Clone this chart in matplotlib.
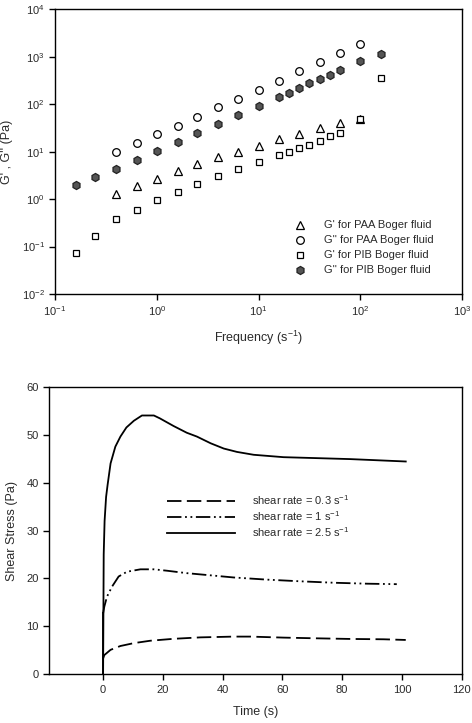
import matplotlib
matplotlib.use("Agg")
import matplotlib.pyplot as plt
from matplotlib.ticker import NullLocator, FixedLocator

plt.rcParams['font.family'] = ['Liberation Sans', 'DejaVu Sans']
plt.rcParams['mathtext.fontset'] = 'custom'
plt.rcParams['mathtext.rm'] = 'Liberation Sans'
plt.rcParams['mathtext.it'] = 'Liberation Sans'

# ---------------- data: top panel (oscillatory) ----------------
freq_paa = [0.4, 0.64, 1.0, 1.6, 2.5, 4.0, 6.3, 10, 16, 25, 40, 63, 100]
gp_paa = [1.27, 1.9, 2.7, 3.9, 5.5, 7.6, 10.1, 13.5, 18.4, 24.2, 31.4, 39.4, 49.4]
gpp_paa = [10.1, 15.4, 23.5, 35.7, 54.4, 86, 130, 205, 316, 500, 776, 1217, 1910]

freq_pib = [0.16, 0.25, 0.4, 0.64, 1.0, 1.6, 2.5, 4.0, 6.3, 10, 16, 20, 25,
            31.6, 40, 50, 63, 100, 160]
gp_pib = [0.073, 0.171, 0.385, 0.586, 0.95, 1.43, 2.1, 3.05, 4.36, 6.0, 8.5,
          9.95, 11.7, 14.2, 16.7, 21.3, 25, 48.6, 367]
gpp_pib = [1.97, 2.86, 4.29, 6.75, 10.3, 16.2, 24.6, 38.1, 60, 93, 146, 177,
           219, 275, 344, 425, 542, 825, 1175]

labels_top = ["G' for PAA Boger fluid", "G'' for PAA Boger fluid",
              "G' for PIB Boger fluid", "G'' for PIB Boger fluid"]

# ---------------- data: bottom panel (start-up shear) ----------------
t_25 = [0, 0.2, 0.5, 1.0, 1.5, 2.5, 4.1, 5.8, 7.8, 10.3, 13, 17, 19, 23.6, 28,
        31.4, 36, 40.4, 44.8, 50.4, 60.4, 71.6, 82.7, 93.9, 101.3]
s_25 = [0, 25, 32, 37, 39.5, 44, 47.5, 49.6, 51.5, 52.9, 54, 54, 53.4, 51.8,
        50.4, 49.6, 48.2, 47.1, 46.4, 45.8, 45.3, 45.1, 44.9, 44.6, 44.4]

t_1 = [0, 0.4, 1.3, 3.0, 5.2, 8.0, 12.5, 17, 21.5, 28, 35, 43.7, 54.8, 66,
       77.2, 88.4, 98.3]
s_1 = [12.7, 14.1, 16.2, 18.3, 20.4, 21.4, 21.9, 21.9, 21.6, 21.1, 20.7, 20.2,
       19.75, 19.4, 19.1, 18.9, 18.8]

t_03 = [0, 0.4, 2.5, 5.8, 10.3, 15.8, 23.6, 32.6, 43.7, 49.3, 60.4, 71.6,
        82.7, 93.9, 101.3]
s_03 = [3.3, 4.0, 5.1, 5.9, 6.5, 7.0, 7.4, 7.7, 7.86, 7.86, 7.65, 7.5, 7.37,
        7.3, 7.16]

labels_bot = [r"shear rate = 0.3 s$^{-1}$", r"shear rate = 1 s$^{-1}$",
              r"shear rate = 2.5 s$^{-1}$"]

txt = '#2a2a2a'
fig = plt.figure(figsize=(4.72, 7.23), dpi=100)

# ---------------- top panel ----------------
ax1 = fig.add_axes([0.1165, 0.5934, 0.979 - 0.1165, 0.9869 - 0.5934])
ms = 5.2
ax1.plot(freq_paa, gp_paa, linestyle='none', marker='^', ms=ms, mfc='white',
         mec='black', mew=0.9, label=labels_top[0])
ax1.plot(freq_paa, gpp_paa, linestyle='none', marker='o', ms=ms + 0.3, mfc='white',
         mec='black', mew=0.9, label=labels_top[1])
ax1.plot(freq_pib, gp_pib, linestyle='none', marker='s', ms=ms - 0.3, mfc='white',
         mec='black', mew=0.9, label=labels_top[2])
ax1.plot(freq_pib, gpp_pib, linestyle='none', marker='h', ms=ms + 0.6, mfc='#555555',
         mec='#222222', mew=0.9, label=labels_top[3])
ax1.set_xscale('log')
ax1.set_yscale('log')
ax1.set_xlim(0.1, 1000)
ax1.set_ylim(0.01, 10000)
ax1.xaxis.set_major_locator(FixedLocator([0.1, 1, 10, 100, 1000]))
ax1.yaxis.set_major_locator(FixedLocator([0.01, 0.1, 1, 10, 100, 1000, 10000]))
ax1.xaxis.set_minor_locator(NullLocator())
ax1.yaxis.set_minor_locator(NullLocator())
ax1.set_xticklabels([r'$10^{-1}$', r'$10^{0}$', r'$10^{1}$', r'$10^{2}$', r'$10^{3}$'])
ax1.set_yticklabels([r'$10^{-2}$', r'$10^{-1}$', r'$10^{0}$', r'$10^{1}$', r'$10^{2}$',
                     r'$10^{3}$', r'$10^{4}$'])
ax1.set_xlabel(r'Frequency (s$^{-1}$)', fontsize=9, color=txt, labelpad=8)
ax1.set_ylabel("G' , G'' (Pa)", fontsize=9, color=txt, labelpad=6)
leg1 = ax1.legend(loc='lower right', bbox_to_anchor=(0.955, 0.03), frameon=False,
                  fontsize=8, handletextpad=1.2, labelspacing=0.45,
                  labelcolor=txt)

# ---------------- bottom panel ----------------
ax2 = fig.add_axes([0.1045, 0.0674, 0.978 - 0.1045, 0.4651 - 0.0674])
ax2.plot(t_03, s_03, color='black', lw=1.3, dashes=(8, 3), label=labels_bot[0])
ax2.plot(t_1, s_1, color='black', lw=1.3, dashes=(8, 2, 1, 2, 1, 2),
         label=labels_bot[1])
ax2.plot(t_25, s_25, color='black', lw=1.3, label=labels_bot[2])
ax2.plot([0, 0], [0, 12.7], color='black', lw=1.3)
ax2.set_xlim(-18, 120)
ax2.set_ylim(0, 60)
ax2.set_xticks([0, 20, 40, 60, 80, 100, 120])
ax2.set_yticks([0, 10, 20, 30, 40, 50, 60])
ax2.set_xlabel('Time (s)', fontsize=9, color=txt, labelpad=8)
ax2.set_ylabel('Shear Stress (Pa)', fontsize=9, color=txt, labelpad=6)
leg2 = ax2.legend(loc='upper left', bbox_to_anchor=(0.26, 0.665), frameon=False,
                  fontsize=8, handlelength=6.2, handletextpad=1.45,
                  labelspacing=0.2, labelcolor=txt)

for ax in (ax1, ax2):
    for sp in ax.spines.values():
        sp.set_linewidth(1.0)
    ax.tick_params(axis='both', which='major', direction='out', length=4,
                   width=1.0, labelsize=8, labelcolor=txt, top=False, right=False)

fig.savefig('out.png', dpi=100)
